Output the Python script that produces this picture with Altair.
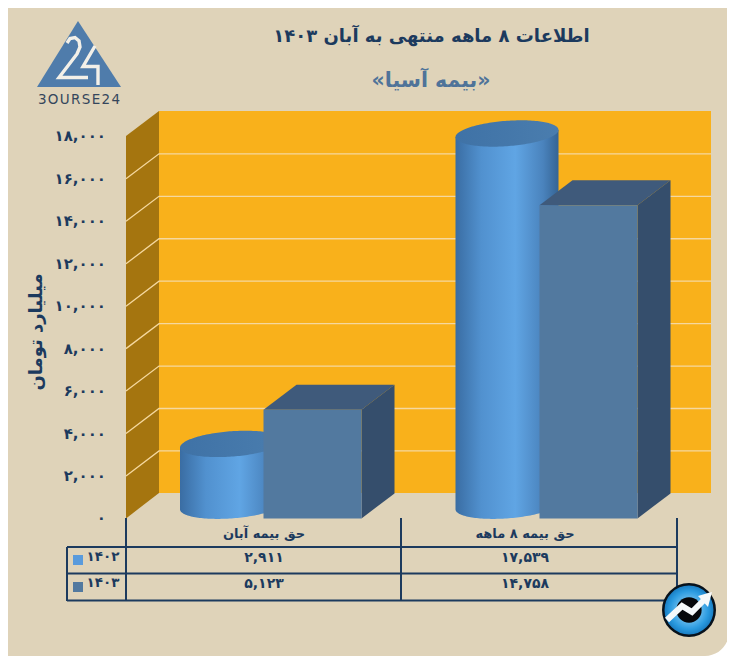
import math
import altair as alt
import pandas as pd

# ---- values
categories = ["حق بیمه آبان", "حق بیمه ۸  ماهه"]
series_names = ["۱۴۰۲", "۱۴۰۳"]
values_1402 = [2911, 17539]
values_1403 = [5123, 14758]
value_labels_1402 = ["۲,۹۱۱", "۱۷,۵۳۹"]
value_labels_1403 = ["۵,۱۲۳", "۱۴,۷۵۸"]
y_ticks = [0, 2000, 4000, 6000, 8000, 10000, 12000, 14000, 16000, 18000]
y_tick_labels = ["۰", "۲,۰۰۰", "۴,۰۰۰", "۶,۰۰۰", "۸,۰۰۰", "۱۰,۰۰۰", "۱۲,۰۰۰", "۱۴,۰۰۰", "۱۶,۰۰۰", "۱۸,۰۰۰"]

title_text = "اطلاعات ۸ ماهه منتهی به آبان ۱۴۰۳"
subtitle_text = "«بیمه آسیا»"
y_title = "میلیارد تومان"
FONT = "DejaVu Sans"
NAVY = "#1c3a5e"
BG = "#dfd3b9"

# ---- scales: x in page pixels, y in value units
W, H = 719, 648
PX_PER_UNIT = 382 / 18000
Y0 = 518.4
SX = alt.Scale(domain=[8, 8 + W], range=[0, W], nice=False, zero=False)
SY = alt.Scale(domain=[0, 18000], range=[Y0 - 8, Y0 - 382 - 8], nice=False, zero=False)
DY = 25 / PX_PER_UNIT      # wall depth in value units
DX = 33                    # wall depth in pixels


def v(py):
    """page pixel row expressed in value units (for decoration)"""
    return (Y0 - py) / PX_PER_UNIT


def X(f="x"):
    return alt.X(f"{f}:Q", scale=SX, axis=None)


def Y(f="y"):
    return alt.Y(f"{f}:Q", scale=SY, axis=None)


def area(xs, tops, bottoms, fill, **kw):
    df = pd.DataFrame({"x": xs, "y": tops, "y2": bottoms})
    return alt.Chart(df).mark_area(fill=fill, **kw).encode(
        x=X(), y=Y(), y2="y2:Q"
    )


def line(xs, ys, color, width, **kw):
    df = pd.DataFrame({"x": xs, "y": ys, "i": range(len(xs))})
    return alt.Chart(df).mark_line(color=color, strokeWidth=width, **kw).encode(
        x=X(), y=Y(), order="i:Q"
    )


def text(xs, ys, labels, size, color=NAVY, weight="bold", font=FONT, **kw):
    df = pd.DataFrame({"x": xs, "y": ys, "t": labels})
    return alt.Chart(df).mark_text(
        font=font, fontSize=size, fontWeight=weight, color=color, **kw
    ).encode(x=X(), y=Y(), text="t:N")


layers = []

# card
card = alt.Chart(pd.DataFrame({"x": [-20], "x2": [729], "y": [v(-20)], "y2": [v(656)]})).mark_rect(
    fill=BG, cornerRadius=24
).encode(x=X(), x2="x2:Q", y=Y(), y2="y2:Q")
layers.append(card)

# value-axis labels
layers.append(text([106] * len(y_ticks), y_ticks, y_tick_labels, 15, align="right"))

# walls
layers.append(area([159, 711], [v(111)] * 2, [v(493)] * 2, "#f9b11b"))
layers.append(area([126, 159], [v(136), v(111)], [v(518.4), v(493)], "#a5750f"))

# gridlines across both walls
GRID = "#f5d89f"
for t in y_ticks[1:-1]:
    layers.append(line([126, 159, 711], [t, t + DY, t + DY], GRID, 1.3))

# cylinders (1402)
CYL_LEFT = [180, 455.5]
CYL_W = 103
a = CYL_W / 2
b = 12.7
shear = 3.6
cyl_fill = alt.LinearGradient(
    gradient="linear", x1=0, x2=1, y1=0, y2=0,
    stops=[
        alt.GradientStop(offset=0, color="#3a6da3"),
        alt.GradientStop(offset=0.25, color="#5191cf"),
        alt.GradientStop(offset=0.58, color="#60a5e4"),
        alt.GradientStop(offset=0.85, color="#4a83bd"),
        alt.GradientStop(offset=1, color="#356494"),
    ],
)
cap_fill = alt.LinearGradient(
    gradient="linear", x1=0, x2=1, y1=0, y2=0,
    stops=[
        alt.GradientStop(offset=0, color="#3f72a6"),
        alt.GradientStop(offset=1, color="#4a7dae"),
    ],
)
base_center = 12.7 / PX_PER_UNIT
for left, val in zip(CYL_LEFT, values_1402):
    cx = left + a
    steps = [i / 80 for i in range(81)]
    xs = [cx + a * math.cos(math.pi * (1 - s)) for s in steps]
    upper, lower, top_body = [], [], []
    for x in xs:
        u = (x - cx) / a
        r = math.sqrt(max(0.0, 1 - u * u))
        s_ = shear * u / PX_PER_UNIT
        upper.append(val + base_center + s_ + b * r / PX_PER_UNIT)
        top_body.append(val + base_center + s_)
        lower.append(base_center + s_ - b * r / PX_PER_UNIT)
    layers.append(area(xs, top_body, lower, cyl_fill, interpolate="linear"))
    cap_low = [val + base_center + (shear * (x - cx) / a) / PX_PER_UNIT
               - b * math.sqrt(max(0.0, 1 - ((x - cx) / a) ** 2)) / PX_PER_UNIT for x in xs]
    layers.append(area(xs, upper, cap_low, cap_fill))

# boxes (1403)
BOX_LEFT = [263.5, 539.5]
BOX_W = 98
for left, val in zip(BOX_LEFT, values_1403):
    right = left + BOX_W
    layers.append(area([left, left + DX, right, right + DX],
                       [val, val + DY, val + DY, val + DY],
                       [val, val, val, val + DY], "#3f5a7b"))
    layers.append(area([right, right + DX],
                       [val, val + DY],
                       [0, DY], "#354e6c"))
    layers.append(area([left, right], [val, val], [0, 0], "#52799f"))

# table rules
for x_ in [126, 401, 677]:
    layers.append(line([x_, x_], [v(518), v(601)], NAVY, 2))
layers.append(line([67, 67], [v(547), v(601)], NAVY, 2))
for y_ in [547, 573.5, 600.5]:
    layers.append(line([67, 677], [v(y_)] * 2, NAVY, 2))

# table texts
CENTERS = [264, 525]
layers.append(text(CENTERS, [v(534)] * 2, categories, 13))
layers.append(text(CENTERS, [v(557.5)] * 2, value_labels_1402, 14))
layers.append(text(CENTERS, [v(583.5)] * 2, value_labels_1403, 14))
layers.append(text([103, 103], [v(556.5), v(583)], series_names, 13.5))
layers.append(area([73, 83], [v(555)] * 2, [v(565)] * 2, "#5a9bdc"))
layers.append(area([73, 83], [v(582)] * 2, [v(592)] * 2, "#52799f"))

# titles
layers.append(text([431.5], [v(37)], [title_text], 18))
layers.append(text([431], [v(81)], [subtitle_text], 20.5, color="#4f7399"))
layers.append(text([37], [v(332)], [y_title], 18, angle=270))

# logo
LOGO = "#4f7cab"
layers.append(area([37, 78, 121], [v(87), v(21), v(87)], [v(87)] * 3, LOGO))
layers.append(line([67, 70, 75, 79, 80, 77, 59, 88],
                   [v(43), v(38.5), v(37.5), v(41), v(47), v(54), v(77.5), v(77.5)], "#f3f0e8", 3.4))
layers.append(line([95, 83, 98, 98], [v(46), v(66.5), v(66.5), v(85)], "#f3f0e8", 3.4))
layers.append(text([79], [v(100)], ["3\u200aO\u200aU\u200aR\u200aS\u200aE\u200a2\u200a4"], 13.5,
                   color="#35465c", weight="normal"))

# badge
badge_fill = alt.RadialGradient(
    gradient="radial", x1=0.5, y1=0.5, r1=0.1, x2=0.5, y2=0.5, r2=0.55,
    stops=[
        alt.GradientStop(offset=0, color="#8fd0f5"),
        alt.GradientStop(offset=0.6, color="#2b9be0"),
        alt.GradientStop(offset=1, color="#0f6ab0"),
    ],
)
badge = pd.DataFrame({"x": [689], "y": [v(610)]})
layers.append(alt.Chart(badge).mark_circle(size=2650, fill=badge_fill, opacity=1, stroke="#08121c",
                                           strokeWidth=2.5).encode(x=X(), y=Y()))
layers.append(alt.Chart(pd.DataFrame({"x": [689], "y": [v(610)]})).mark_circle(
    size=640, fill="#06080c", opacity=1).encode(x=X(), y=Y()))
layers.append(line([667, 682, 692, 705], [v(620), v(606), v(612), v(599)], "#f5f9fb", 6))
layers.append(area([698, 708, 712], [v(596), v(593), v(592)], [v(596), v(607), v(592)], "#f5f9fb"))

chart = alt.layer(*layers).properties(
    width=W, height=H, padding=0, background="#ffffff",
    autosize=alt.AutoSizeParams(type="none"),
).configure_view(stroke=None)

chart.save("out.html", embed_options={"renderer": "svg", "actions": False})
